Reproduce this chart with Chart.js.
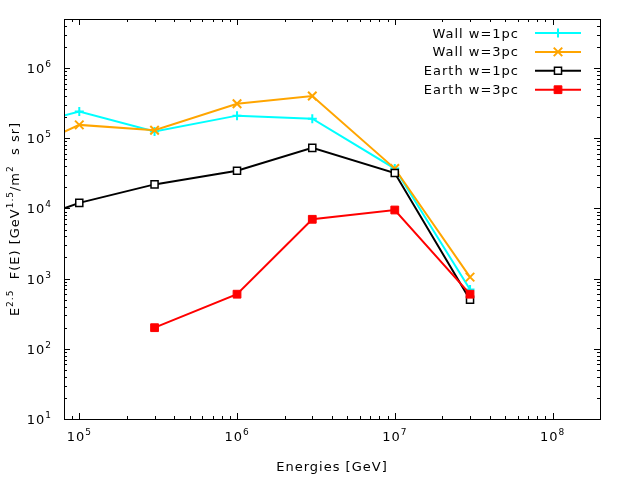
<!DOCTYPE html>
<html>
<head>
<meta charset="utf-8">
<script src="https://cdn.jsdelivr.net/npm/chart.js@4/dist/chart.umd.min.js"></script>
<style>
 html, body { margin: 0; padding: 0; background: #fff; }
 canvas { display: block; }
</style>
</head>
<body>
<canvas id="chart" width="640" height="480"></canvas>
<script>
// energies in GeV (first point sits left of the visible range, so the lines run into the frame)
const energies = [3e4, 1e5, 3e5, 1e6, 3e6, 1e7, 3e7];
const wall1pc = [1.2e5, 2.4e5, 1.25e5, 2.1e5, 1.9e5, 3.7e4, 700];
const wall3pc = [4.5e4, 1.55e5, 1.3e5, 3.1e5, 4.0e5, 3.7e4, 1.05e3];
const earth1pc = [4.5e3, 1.2e4, 2.2e4, 3.45e4, 7.3e4, 3.2e4, 500];
const earth3pc = [null, null, 200, 600, 7.0e3, 9.5e3, 600];
const seriesNames = ["Wall w=1pc", "Wall w=3pc", "Earth w=1pc", "Earth w=3pc"];
const xTickPowers = [5, 6, 7, 8];
const yTickPowers = [1, 2, 3, 4, 5, 6];

const FONT = '"DejaVu Sans", sans-serif';

function points(values) {
 return energies.map((x, i) => ({ x, y: values[i] }));
}

const styles = [
 { color: "#00ffff", style: "cross", radius: 4.5, bg: "#00ffff", bw: 2 },
 { color: "#ffa500", style: "crossRot", radius: 6, bg: "#ffa500", bw: 2 },
 { color: "#000000", style: "rect", radius: 5, bg: "#ffffff", bw: 1.5 },
 { color: "#ff0000", style: "rect", radius: 5.5, bg: "#ff0000", bw: 1 },
];

// draws "base" + raised exponent, returns width
function supWidth(ctx, parts) {
 let w = 0;
 parts.forEach(([txt, sup]) => {
  ctx.font = (sup ? "9px " : "13px ") + FONT;
  w += ctx.measureText(txt).width;
 });
 return w;
}
function drawParts(ctx, parts, x, y) {
 parts.forEach(([txt, sup]) => {
  ctx.font = (sup ? "9px " : "13px ") + FONT;
  ctx.fillText(txt, x, sup ? y - 6 : y);
  x += ctx.measureText(txt).width;
 });
}

function drawMarker(ctx, s, x, y) {
 ctx.save();
 ctx.strokeStyle = s.color;
 ctx.fillStyle = s.bg;
 ctx.lineWidth = s.bw;
 const r = s.radius;
 ctx.beginPath();
 if (s.style === "cross") {
  ctx.moveTo(x - r, y); ctx.lineTo(x + r, y);
  ctx.moveTo(x, y - r); ctx.lineTo(x, y + r);
  ctx.stroke();
 } else if (s.style === "crossRot") {
  const d = r * Math.SQRT1_2;
  ctx.moveTo(x - d, y - d); ctx.lineTo(x + d, y + d);
  ctx.moveTo(x - d, y + d); ctx.lineTo(x + d, y - d);
  ctx.stroke();
 } else {
  const d = r * Math.SQRT1_2;
  ctx.rect(x - d, y - d, 2 * d, 2 * d);
  ctx.fill();
  ctx.stroke();
 }
 ctx.restore();
}

const frame = {
 id: "frame",
 afterDraw(chart) {
  const ctx = chart.ctx;
  const { left, right, top, bottom } = chart.chartArea;
  const xs = chart.scales.x;
  const ys = chart.scales.y;
  ctx.save();
  ctx.letterSpacing = "1px";
  ctx.strokeStyle = "#000";
  ctx.lineWidth = 1;
  ctx.strokeRect(left + 0.5, top + 0.5, right - left, bottom - top);

  // log ticks on all four sides
  ctx.beginPath();
  for (let p = 4; p <= 8; p++) {
   for (let m = 1; m <= 9; m++) {
    const v = m * Math.pow(10, p);
    if (v < xs.min || v > xs.max) continue;
    const px = Math.round(xs.getPixelForValue(v)) + 0.5;
    const len = m === 1 ? 6 : 3;
    ctx.moveTo(px, bottom); ctx.lineTo(px, bottom - len);
    ctx.moveTo(px, top); ctx.lineTo(px, top + len);
   }
  }
  for (let p = 1; p <= 6; p++) {
   for (let m = 1; m <= 9; m++) {
    const v = m * Math.pow(10, p);
    if (v < ys.min || v > ys.max) continue;
    const py = Math.round(ys.getPixelForValue(v)) + 0.5;
    const len = m === 1 ? 6 : 3;
    ctx.moveTo(left, py); ctx.lineTo(left + len, py);
    ctx.moveTo(right, py); ctx.lineTo(right - len, py);
   }
  }
  ctx.stroke();

  ctx.fillStyle = "#000";
  ctx.textAlign = "left";
  ctx.textBaseline = "alphabetic";
  xTickPowers.forEach((p) => {
   const parts = [["10", 0], [String(p), 1]];
   const w = supWidth(ctx, parts);
   const px = xs.getPixelForValue(Math.pow(10, p));
   drawParts(ctx, parts, px - w / 2, bottom + 22);
  });
  yTickPowers.forEach((p) => {
   const parts = [["10", 0], [String(p), 1]];
   const w = supWidth(ctx, parts);
   const py = ys.getPixelForValue(Math.pow(10, p));
   drawParts(ctx, parts, 52 - w, py + 5);
  });

  // axis titles
  const xt = [["Energies [GeV]", 0]];
  drawParts(ctx, xt, (left + right) / 2 - supWidth(ctx, xt) / 2, 471);

  const yt = [["E", 0], ["2.5", 1], ["  F(E) [GeV", 0], ["1.5", 1], ["/m", 0], ["2", 1], ["  s sr]", 0]];
  const yw = supWidth(ctx, yt);
  ctx.save();
  ctx.translate(19, (top + bottom) / 2);
  ctx.rotate(-Math.PI / 2);
  drawParts(ctx, yt, -yw / 2, 0);
  ctx.restore();

  // legend, gnuplot style: text right-aligned, sample on the right
  seriesNames.forEach((name, i) => {
   const ly = 33 + i * 18.9;
   const parts = [[name, 0]];
   drawParts(ctx, parts, 519 - supWidth(ctx, parts), ly + 4.5);
   const s = styles[i];
   ctx.strokeStyle = s.color;
   ctx.lineWidth = 2;
   ctx.beginPath();
   ctx.moveTo(535, ly); ctx.lineTo(581, ly);
   ctx.stroke();
   drawMarker(ctx, s, 558, ly);
  });
  ctx.restore();
 },
};

const allSeries = [wall1pc, wall3pc, earth1pc, earth3pc];

new Chart(document.getElementById("chart"), {
 type: "line",
 data: {
  datasets: allSeries.map((values, i) => ({
   label: seriesNames[i],
   data: points(values),
   borderColor: styles[i].color,
   backgroundColor: styles[i].bg,
   borderWidth: 2,
   pointStyle: styles[i].style,
   pointRadius: styles[i].radius,
   pointBorderWidth: styles[i].bw,
   pointBorderColor: styles[i].color,
   pointBackgroundColor: styles[i].bg,
   tension: 0,
   order: 3 - i,
  })),
 },
 options: {
  responsive: false,
  animation: false,
  devicePixelRatio: 1,
  layout: { padding: { left: 64, right: 40, top: 19, bottom: 61 } },
  plugins: { legend: { display: false }, tooltip: { enabled: false } },
  scales: {
   x: { type: "logarithmic", min: 8e4, max: 2e8, display: false },
   y: { type: "logarithmic", min: 10, max: 5e6, display: false },
  },
 },
 plugins: [frame],
});
</script>
</body>
</html>
